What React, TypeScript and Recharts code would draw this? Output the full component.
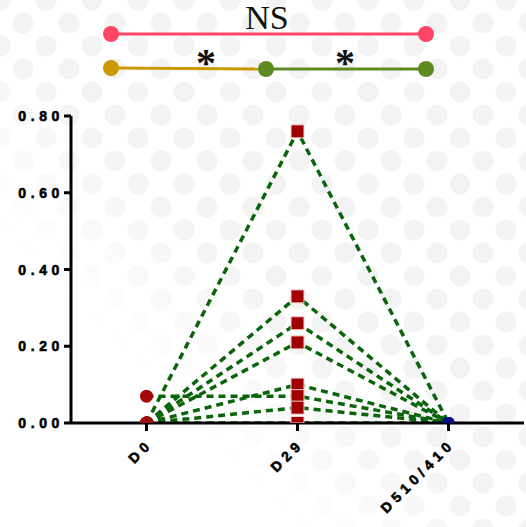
import { ComposedChart, Line, XAxis, YAxis } from "recharts";

const categories = ["D0", "D29", "D510/410"];

// one list per subject: D0, D29, D510/410
const subject1 = [0, 0.76, 0];
const subject2 = [0, 0.33, 0];
const subject3 = [0, 0.26, 0];
const subject4 = [0, 0.21, 0];
const subject5 = [0, 0.1, 0];
const subject6 = [0.07, 0.07, 0];
const subject7 = [0, 0.04, 0];
const subject8 = [0, 0, 0];

const subjects = [subject1, subject2, subject3, subject4, subject5, subject6, subject7, subject8];

const yTicks = [0, 0.2, 0.4, 0.6, 0.8];

const data = categories.map((name, i) => {
	const row: any = { name };
	subjects.forEach((s, k) => {
		row["s" + (k + 1)] = s[i];
	});
	return row;
});

// markers sitting on the x axis are cut in half by the plot edge
const markerDot = (props: any) => {
	const { cx, cy, index, value } = props;
	if (cx == null || cy == null) return null;
	const onAxis = value === 0;
	const color = index === 0 ? "#a50a0a" : index === 1 ? "#a00000" : "#0b0b86";
	const r = index === 2 ? 6 : 6.5;
	if (index === 1) {
		return (
			<rect
				key={"d" + index}
				x={cx - 6.5}
				y={cy - 6.5}
				width={13}
				height={onAxis ? 6.5 : 13}
				fill={color}
				stroke="#f6d0d0"
				strokeWidth={1}
			/>
		);
	}
	if (onAxis) {
		return <path key={"d" + index} d={`M${cx - r},${cy} A${r},${r} 0 0 1 ${cx + r},${cy} Z`} fill={color} />;
	}
	return <circle key={"d" + index} cx={cx} cy={cy} r={r} fill={color} />;
};

const labelStyle = {
	fill: "#000",
	stroke: "#000",
	strokeWidth: 0.6,
	fontFamily: "Liberation Sans, Arial, sans-serif",
	fontWeight: "bold" as const,
	fontSize: 14,
	letterSpacing: 4.6,
};

const YTick = (props: any) => {
	const { x, y, payload } = props;
	return (
		<text x={x + 2} y={y} dy="0.36em" textAnchor="end" {...labelStyle}>
			{payload.value.toFixed(2)}
		</text>
	);
};

const XTick = (props: any) => {
	const { x, y, payload } = props;
	return (
		<g transform={`translate(${x + 7},${y + 12})`}>
			<text transform="rotate(-45)" textAnchor="end" {...labelStyle}>
				{payload.value}
			</text>
		</g>
	);
};

const App = () => {
	return (
		<div
			style={{
				position: "absolute",
				left: 0,
				top: 0,
				width: 526,
				height: 527,
				background: "#fff",
			}}
		>
			<div
				style={{
					position: "absolute",
					inset: 0,
					backgroundImage:
						"radial-gradient(circle, #f3f3f4 10px, transparent 11px), radial-gradient(circle, #f3f3f4 10px, transparent 11px)",
					backgroundSize: "46px 46px",
					backgroundPosition: "0 0, 23px 23px",
					WebkitMaskImage: "linear-gradient(to top right, transparent 28%, black 48%)",
					maskImage: "linear-gradient(to top right, transparent 28%, black 48%)",
				}}
			/>
			<svg width={526} height={100} style={{ position: "absolute", left: 0, top: 0 }}>
				<text x={267} y={29} textAnchor="middle" fontFamily="Liberation Serif, Times New Roman, serif" fontSize={34} fill="#111">
					NS
				</text>
				<line x1={111} y1={34} x2={426} y2={34} stroke="#ff4466" strokeWidth={3} />
				<circle cx={111} cy={34} r={8} fill="#ff4466" />
				<circle cx={426} cy={34} r={8} fill="#ff4466" />
				<line x1={111} y1={68} x2={266} y2={69} stroke="#c99a00" strokeWidth={3} />
				<line x1={266} y1={69} x2={426} y2={69} stroke="#5e8a22" strokeWidth={3} />
				<circle cx={111} cy={68} r={8} fill="#c99a00" />
				<circle cx={266} cy={69} r={8} fill="#5e8a22" />
				<circle cx={426} cy={69} r={8} fill="#5e8a22" />
				<text x={206} y={76} textAnchor="middle" fontFamily="Liberation Serif, Times New Roman, serif" fontWeight="bold" fontSize={40} fill="#111">
					*
				</text>
				<text x={345} y={76} textAnchor="middle" fontFamily="Liberation Serif, Times New Roman, serif" fontWeight="bold" fontSize={40} fill="#111">
					*
				</text>
			</svg>
			<div style={{ position: "absolute", left: 0, top: 0 }}>
				<ComposedChart width={526} height={527} data={data} margin={{ top: 116, right: 2, left: 0, bottom: 0 }}>
					<XAxis
						dataKey="name"
						scale="band"
						height={104}
						tickSize={8}
						axisLine={{ stroke: "#000", strokeWidth: 3 }}
						tickLine={{ stroke: "#000", strokeWidth: 3 }}
						tick={<XTick />}
						interval={0}
					/>
					<YAxis
						width={71}
						domain={[0, 0.8]}
						ticks={yTicks}
						allowDataOverflow
						tickSize={7}
						axisLine={{ stroke: "#000", strokeWidth: 3 }}
						tickLine={{ stroke: "#000", strokeWidth: 3 }}
						tick={<YTick />}
					/>
					{subjects.map((_, k) => (
						<Line
							key={"m" + k}
							dataKey={"s" + (k + 1)}
							stroke="none"
							dot={markerDot}
							activeDot={false}
							isAnimationActive={false}
						/>
					))}
					{subjects.map((_, k) => (
						<Line
							key={"l" + k}
							type="linear"
							dataKey={"s" + (k + 1)}
							stroke="#0a640a"
							strokeWidth={3.5}
							strokeDasharray="7 5"
							dot={false}
							activeDot={false}
							isAnimationActive={false}
						/>
					))}
				</ComposedChart>
			</div>
		</div>
	);
};

export default App;
